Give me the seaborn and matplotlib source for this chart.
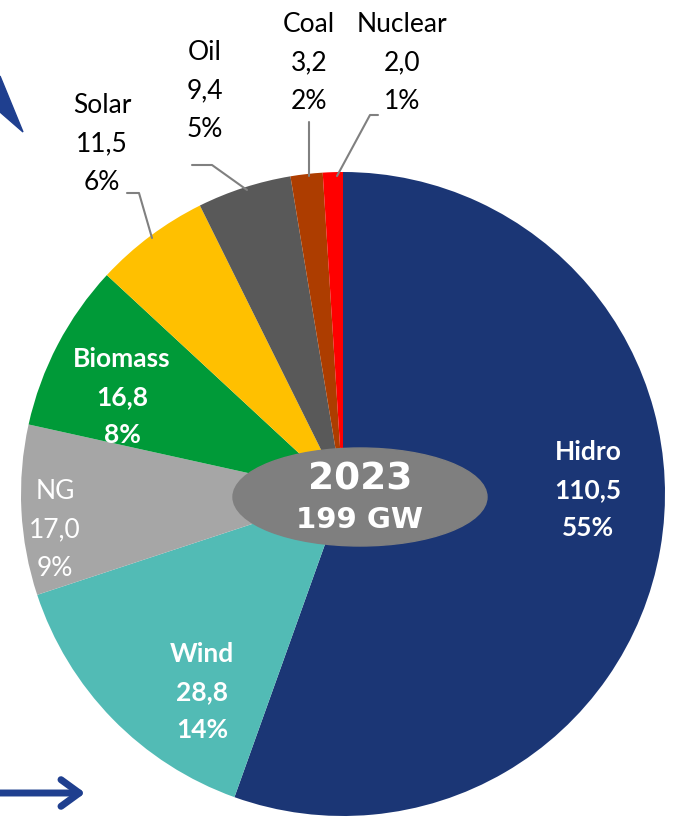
import matplotlib
matplotlib.use("Agg")
import matplotlib.pyplot as plt
import seaborn as sns
from matplotlib.patches import Ellipse, Polygon

# data
sources = ["Hidro", "Wind", "NG", "Biomass", "Solar", "Oil", "Coal", "Nuclear"]
capacity = [110.5, 28.8, 17.0, 16.8, 11.5, 9.4, 3.2, 2.0]
shares = ["55%", "14%", "9%", "8%", "6%", "5%", "2%", "1%"]
year = "2023"
total_label = "199 GW"

colors = ["#1B3675", "#52BBB5", "#A6A6A6", "#009A38", "#FFC000", "#595959", "#AD3D00", "#FF0000"]

sns.set_theme(style="white")
plt.rcParams['font.family'] = ['Lato', 'DejaVu Sans']

W, H = 693, 836
fig = plt.figure(figsize=(W / 100, H / 100), dpi=100)
ax = fig.add_axes([0, 0, 1, 1])

cx, cy, r = 343, H - 494, 322
ax.pie(capacity, colors=colors, startangle=90, counterclock=False,
       center=(cx, cy), radius=r, frame=True,
       wedgeprops=dict(linewidth=0))
ax.set_xlim(0, W)
ax.set_ylim(0, H)
ax.set_aspect("equal")
ax.axis("off")

# label layout (x, y from top, color, bold)
layout = {
    "Hidro":   (588, 490, "white", True),
    "Wind":    (202, 692, "white", True),
    "NG":      (55, 530, "white", False),
    "Biomass": (122, 397, "white", True),
    "Solar":   (102, 144, "black", False),
    "Oil":     (205, 91, "black", False),
    "Coal":    (309, 63, "black", False),
    "Nuclear": (402, 63, "black", False),
}
for name, val, pct in zip(sources, capacity, shares):
    x, y, c, b = layout[name]
    txt = f"{name}\n{val:.1f}".replace(".", ",") + f"\n{pct}"
    ax.text(x, H - y, txt, ha="center", va="center", color=c,
            fontsize=19, fontweight="bold" if b else "normal", linespacing=1.68)

# leader lines
leaders = [
    [(127, 193), (139, 193), (152, 238)],
    [(192, 165), (212, 165), (247, 190)],
    [(309, 122), (309, 176)],
    [(378, 115), (370, 115), (337, 176)],
]
for pts in leaders:
    ax.plot([p[0] for p in pts], [H - p[1] for p in pts], color="#808080", lw=1.5)

# centre label
ax.add_patch(Ellipse((360, H - 497), 254, 98, color="#7F7F7F", zorder=5))
ax.text(360, H - 480, year, ha="center", va="center", color="white",
        fontsize=27, fontweight="bold", family="DejaVu Sans", zorder=6)
ax.text(360, H - 520, total_label, ha="center", va="center", color="white",
        fontsize=21, fontweight="bold", family="DejaVu Sans", zorder=6)

# decorations
ax.add_patch(Polygon([(0, H - 76), (23, H - 132), (0, H - 112)], closed=True,
                     color="#1F3F8F"))
ax.annotate("", xy=(88, H - 793), xytext=(-5, H - 793),
            arrowprops=dict(arrowstyle="->,head_length=1.1,head_width=0.8",
                            color="#1F3F8F", lw=5, capstyle="round",
                            joinstyle="round"))

fig.savefig("out.png", dpi=100, facecolor="white")
